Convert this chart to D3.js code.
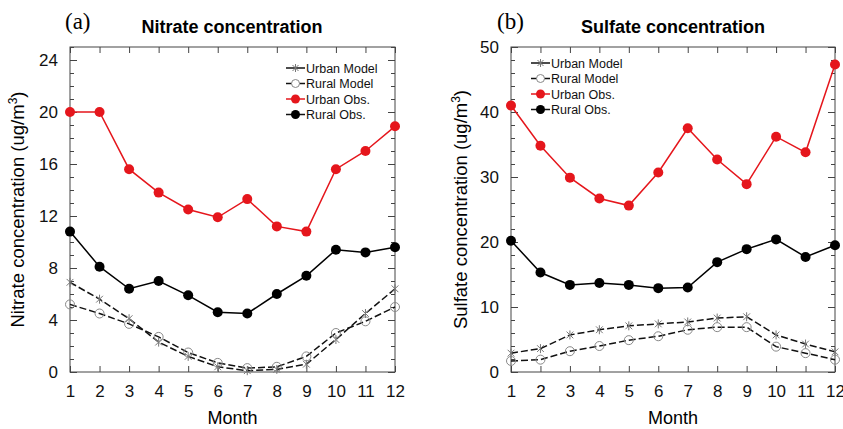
<!DOCTYPE html>
<html lang="en">
<head>
<meta charset="UTF-8">
<title>Nitrate and sulfate concentration</title>
<script src="https://d3js.org/d3.v7.min.js"></script>
<style>
  body {margin: 0; background: #fff;}
  svg {display: block; font-family: "Liberation Sans", Arial, sans-serif;}
  .axis path {display: none;}
  .axis line {stroke: #444;}
  .axis text {font-size: 17px; fill: #111;}
</style>
</head>
<body>
<div id="chart"></div>
<script>
// Data
var months = [1, 2, 3, 4, 5, 6, 7, 8, 9, 10, 11, 12];

var nitrateUrbanModel = [6.9, 5.6, 4.1, 2.3, 1.2, 0.4, 0.1, 0.2, 0.6, 2.5, 4.5, 6.4];
var nitrateRuralModel = [5.2, 4.5, 3.7, 2.7, 1.5, 0.7, 0.3, 0.4, 1.2, 3.0, 3.9, 5.0];
var nitrateUrbanObs   = [20.0, 20.0, 15.6, 13.8, 12.5, 11.9, 13.3, 11.2, 10.8, 15.6, 17.0, 18.9];
var nitrateRuralObs   = [10.8, 8.1, 6.4, 7.0, 5.9, 4.6, 4.5, 6.0, 7.4, 9.4, 9.2, 9.6];

var sulfateUrbanModel = [2.9, 3.6, 5.7, 6.5, 7.1, 7.4, 7.7, 8.3, 8.5, 5.7, 4.3, 3.1];
var sulfateRuralModel = [1.7, 1.9, 3.2, 4.0, 4.9, 5.5, 6.5, 6.9, 6.9, 3.9, 2.9, 1.9];
var sulfateUrbanObs   = [41.0, 34.8, 29.9, 26.7, 25.6, 30.7, 37.5, 32.7, 28.9, 36.2, 33.8, 47.3];
var sulfateRuralObs   = [20.2, 15.3, 13.4, 13.7, 13.4, 12.9, 13.0, 16.9, 18.9, 20.4, 17.7, 19.5];

var nitrateTicks = [0, 4, 8, 12, 16, 20, 24];
var sulfateTicks = [0, 10, 20, 30, 40, 50];
var legendNames = ["Urban Model", "Rural Model", "Urban Obs.", "Rural Obs."];

var width = 843, height = 429;
var plotTop = 47, plotBottom = 372;
var red = "#e5161c";

var svg = d3.select("#chart").append("svg")
    .attr("width", width)
    .attr("height", height);

// draw one panel
function drawPanel(p) {
    var x = d3.scaleLinear().domain([1, 12]).range([p.left, p.right]);
    var y = d3.scaleLinear().domain([0, p.yMax]).range([plotBottom, plotTop]);
    var g = svg.append("g");

    // minor ticks (left and right)
    var minor = d3.range(0, p.yMax + 0.001, p.minorStep);
    g.append("g").attr("class", "axis")
        .attr("transform", "translate(" + p.left + ",0)")
        .call(d3.axisLeft(y).tickValues(minor).tickSize(-4).tickFormat(""));
    g.append("g").attr("class", "axis")
        .attr("transform", "translate(" + p.right + ",0)")
        .call(d3.axisRight(y).tickValues(minor).tickSize(-4).tickFormat(""));

    // major ticks
    g.append("g").attr("class", "axis")
        .attr("transform", "translate(" + p.left + ",0)")
        .call(d3.axisLeft(y).tickValues(p.ticks).tickSize(-7).tickPadding(12));
    g.append("g").attr("class", "axis")
        .attr("transform", "translate(" + p.right + ",0)")
        .call(d3.axisRight(y).tickValues(p.ticks).tickSize(-7).tickFormat(""));
    g.append("g").attr("class", "axis")
        .attr("transform", "translate(0," + plotBottom + ")")
        .call(d3.axisBottom(x).tickValues(months).tickSize(-6).tickPadding(13));
    g.append("g").attr("class", "axis")
        .attr("transform", "translate(0," + plotTop + ")")
        .call(d3.axisTop(x).tickValues(months).tickSize(-6).tickFormat(""));

    // frame
    g.append("rect")
        .attr("x", p.left).attr("y", plotTop)
        .attr("width", p.right - p.left).attr("height", plotBottom - plotTop)
        .attr("fill", "none").attr("stroke", "#444").attr("stroke-width", 1);

    var line = d3.line()
        .x(function(d, i) { return x(months[i]); })
        .y(function(d) { return y(d); });

    // model lines (dashed)
    [p.urbanModel, p.ruralModel].forEach(function(s) {
        g.append("path").datum(s)
            .attr("d", line)
            .attr("fill", "none").attr("stroke", "#111")
            .attr("stroke-width", 1.5).attr("stroke-dasharray", "7,3");
    });

    // urban model markers
    g.selectAll(".um").data(p.urbanModel).enter().append("path")
        .attr("class", "um")
        .attr("transform", function(d, i) { return "translate(" + x(months[i]) + "," + y(d) + ")"; })
        .attr("d", starPath(4.5))
        .attr("stroke", "#777").attr("stroke-width", 1).attr("fill", "none");

    // rural model markers
    g.selectAll(".rm").data(p.ruralModel).enter().append("circle")
        .attr("class", "rm")
        .attr("cx", function(d, i) { return x(months[i]); })
        .attr("cy", function(d) { return y(d); })
        .attr("r", 4.5)
        .attr("fill", "none").attr("stroke", "#888").attr("stroke-width", 1);

    // obs lines
    [[p.urbanObs, red], [p.ruralObs, "#000"]].forEach(function(s) {
        g.append("path").datum(s[0])
            .attr("d", line)
            .attr("fill", "none").attr("stroke", s[1]).attr("stroke-width", 1.5);
        g.selectAll(null).data(s[0]).enter().append("circle")
            .attr("cx", function(d, i) { return x(months[i]); })
            .attr("cy", function(d) { return y(d); })
            .attr("r", 5)
            .attr("fill", s[1]);
    });

    // legend
    var lg = g.append("g").attr("transform", "translate(" + p.legendX + "," + p.legendY + ")");
    legendNames.forEach(function(name, i) {
        var row = lg.append("g").attr("transform", "translate(0," + (i * 15.5) + ")");
        row.append("line").attr("x1", 0).attr("x2", 19).attr("y1", 0).attr("y2", 0)
            .attr("stroke", i == 2 ? red : "#111").attr("stroke-width", 1.5);
        if (i == 0) {
            row.append("path").attr("transform", "translate(9.5,0)").attr("d", starPath(4))
                .attr("stroke", "#777").attr("fill", "none");
        } else if (i == 1) {
            row.append("circle").attr("cx", 9.5).attr("r", 4)
                .attr("fill", "#fff").attr("stroke", "#888");
        } else {
            row.append("circle").attr("cx", 9.5).attr("r", 4.5)
                .attr("fill", i == 2 ? red : "#000");
        }
        row.append("text").attr("x", 20).attr("y", 4.5)
            .attr("font-size", "12.5px").attr("fill", "#111")
            .text(name);
    });

    // titles
    svg.append("text").attr("x", p.tagX).attr("y", 29)
        .attr("font-family", "Liberation Serif, serif").attr("font-size", "23px")
        .text(p.tag);
    svg.append("text").attr("x", p.titleX).attr("y", 33)
        .attr("text-anchor", "middle").attr("font-size", "18px").attr("font-weight", "bold")
        .text(p.title);
    svg.append("text").attr("x", (p.left + p.right) / 2).attr("y", 424)
        .attr("text-anchor", "middle").attr("font-size", "18px")
        .text("Month");
    var yl = svg.append("text")
        .attr("transform", "translate(" + p.ylabX + "," + ((plotTop + plotBottom) / 2) + ") rotate(-90)")
        .attr("text-anchor", "middle").attr("font-size", "18.5px");
    yl.append("tspan").text(p.ylabel + " (ug/m");
    yl.append("tspan").attr("baseline-shift", "super").attr("font-size", "12px").text("3");
    yl.append("tspan").text(")");
}

// asterisk marker: x plus vertical bar
function starPath(r) {
    var d = r * 0.75;
    return "M" + (-d) + "," + (-d) + "L" + d + "," + d +
        "M" + (-d) + "," + d + "L" + d + "," + (-d) +
        "M0," + (-r) + "L0," + r;
}

drawPanel({
    left: 70, right: 395, yMax: 25, ticks: nitrateTicks, minorStep: 1,
    urbanModel: nitrateUrbanModel, ruralModel: nitrateRuralModel,
    urbanObs: nitrateUrbanObs, ruralObs: nitrateRuralObs,
    legendX: 286, legendY: 68,
    tag: "(a)", tagX: 65, title: "Nitrate concentration", titleX: 232,
    ylabel: "Nitrate concentration", ylabX: 24
});

drawPanel({
    left: 511, right: 835, yMax: 50, ticks: sulfateTicks, minorStep: 2,
    urbanModel: sulfateUrbanModel, ruralModel: sulfateRuralModel,
    urbanObs: sulfateUrbanObs, ruralObs: sulfateRuralObs,
    legendX: 531, legendY: 63,
    tag: "(b)", tagX: 497, title: "Sulfate concentration", titleX: 673,
    ylabel: "Sulfate concentration", ylabX: 467
});
</script>
</body>
</html>
